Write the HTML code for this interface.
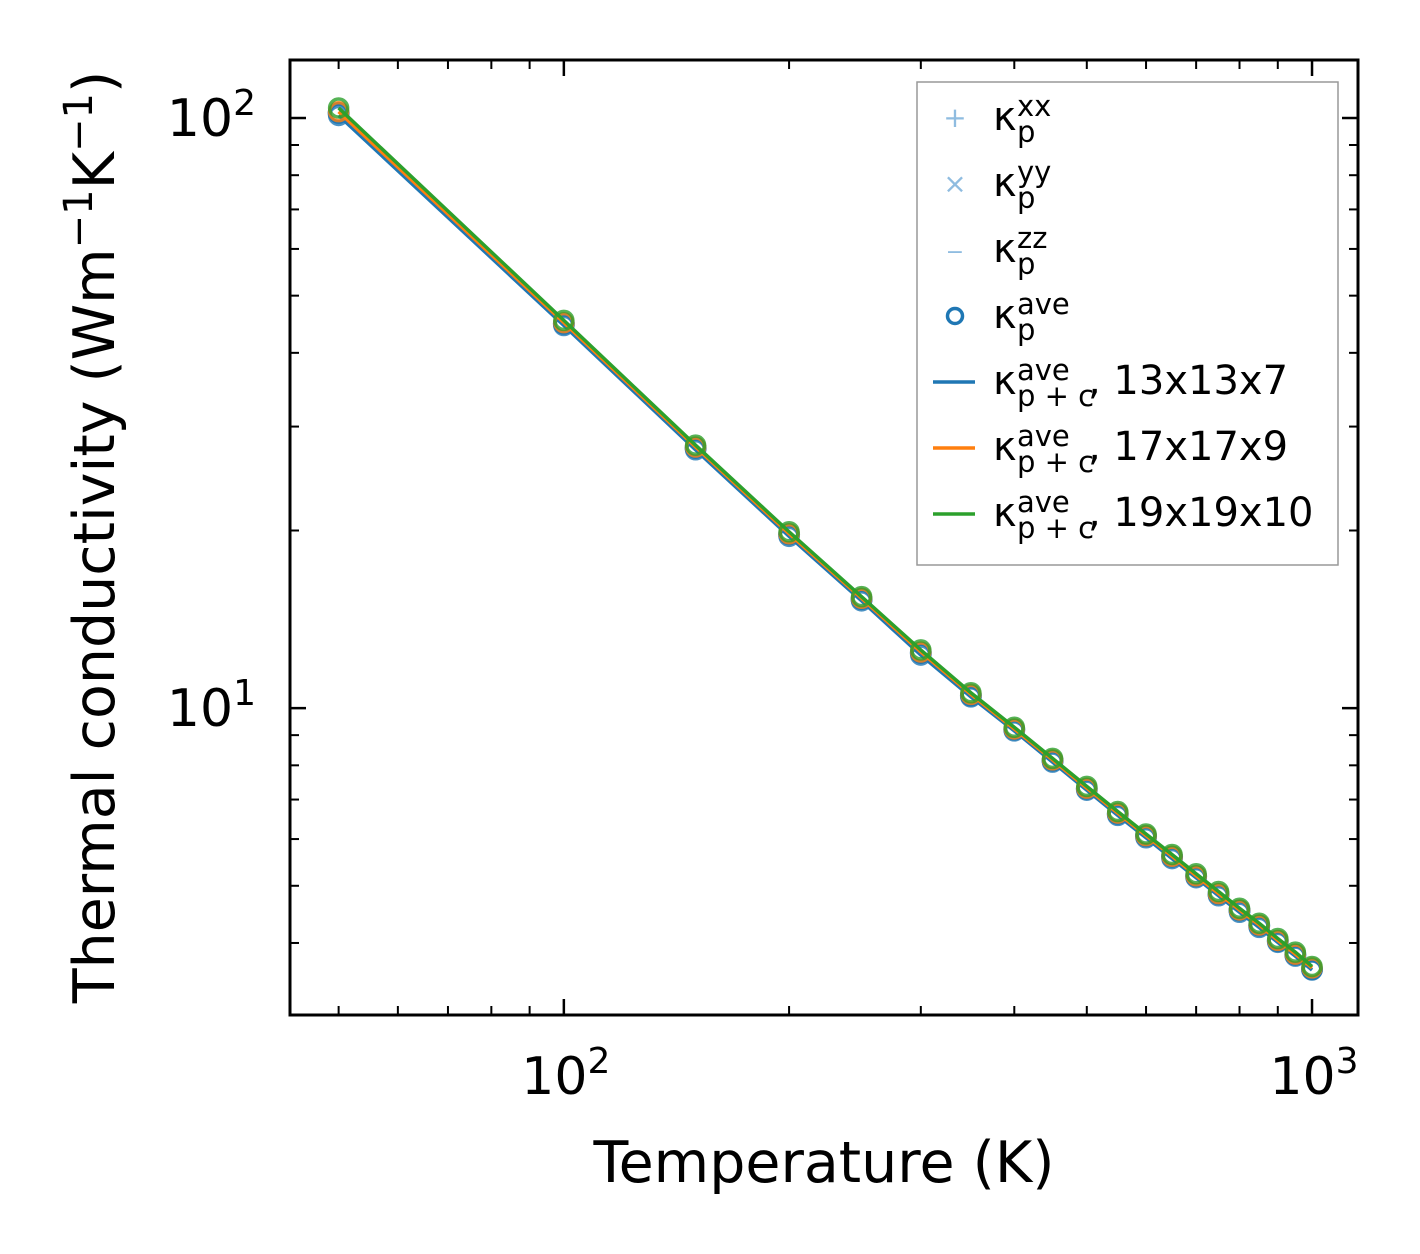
<!DOCTYPE html>
<html><head><meta charset="utf-8">
<style>
html,body{margin:0;padding:0;background:#fff;}
svg{display:block;font-family:"DejaVu Sans","Liberation Sans",sans-serif;}
</style></head>
<body>
<svg id="chart" width="1420" height="1254" viewBox="0 0 1420 1254" xmlns="http://www.w3.org/2000/svg"></svg>
<script>
const temps=[50,100,150,200,250,300,350,400,450,500,550,600,650,700,750,800,850,900,950,1000];
const kappaAve=[102,44.8,27.6,19.7,15.3,12.4,10.5,9.2,8.15,7.3,6.62,6.07,5.6,5.19,4.84,4.54,4.28,4.03,3.82,3.61];
const kappa13=[101,44.5,27.4,19.55,15.2,12.3,10.45,9.15,8.1,7.26,6.58,6.03,5.56,5.16,4.81,4.51,4.25,4.01,3.8,3.6];
const kappa17=[102.5,45.0,27.7,19.75,15.35,12.45,10.55,9.22,8.17,7.32,6.64,6.08,5.61,5.2,4.85,4.55,4.29,4.04,3.83,3.63];
const kappa19=[104,45.4,27.9,19.9,15.45,12.55,10.62,9.28,8.22,7.37,6.68,6.12,5.65,5.24,4.89,4.58,4.32,4.07,3.86,3.65];
const xMajor=[100,1000];
const yMajor=[10,100];

const L=290,R=1358,T=60,B=1015;
const xmin=Math.log10(43.05),xmax=Math.log10(1152);
const ymin=Math.log10(3.02),ymax=Math.log10(125.4);
const X=v=>L+(Math.log10(v)-xmin)/(xmax-xmin)*(R-L);
const Y=v=>B-(Math.log10(v)-ymin)/(ymax-ymin)*(B-T);
const svg=document.getElementById('chart');
const NS='http://www.w3.org/2000/svg';
function mk(tag,attrs,parent){const e=document.createElementNS(NS,tag);for(const k in attrs)e.setAttribute(k,attrs[k]);(parent||svg).appendChild(e);return e;}

const tg=mk('g',{});


for(let d=1;d<=1000;d*=10){for(let m=1;m<10;m++){const v=d*m;const lv=Math.log10(v);
 if(lv>=xmin&&lv<=xmax){const x=X(v);const len=m===1?16:9;const w=m===1?2.5:2;
  mk('line',{x1:x,x2:x,y1:B,y2:B-len,stroke:'#000','stroke-width':w},tg);
  mk('line',{x1:x,x2:x,y1:T,y2:T+len,stroke:'#000','stroke-width':w},tg);}
 if(lv>=ymin&&lv<=ymax){const y=Y(v);const len=m===1?16:9;const w=m===1?2.5:2;
  mk('line',{y1:y,y2:y,x1:L,x2:L+len,stroke:'#000','stroke-width':w},tg);
  mk('line',{y1:y,y2:y,x1:R,x2:R-len,stroke:'#000','stroke-width':w},tg);}
}}
function powLabel(x,y,exp,anchor,name){const t=mk('text',{x:x,y:y,'font-size':52,'text-anchor':anchor});
 
 t.innerHTML='10<tspan dy="-21" font-size="36">'+exp+'</tspan>';}
xMajor.forEach(v=>powLabel(X(v)+2,1094,Math.log10(v),'middle','x-tick-label'));
yMajor.forEach(v=>powLabel(256,Y(v)+18,Math.log10(v),'end','y-tick-label'));

const lg=mk('g',{'clip-path':'url(#clip)'});
const cp=mk('clipPath',{id:'clip'});mk('rect',{x:L,y:T,width:R-L,height:B-T},cp);
temps.forEach((t,i)=>{
 const c=mk('circle',{cx:X(t),cy:Y(kappaAve[i]),r:9,fill:'none',stroke:'#1f77b4','stroke-width':4},lg);
 
 
});
[[kappa13,'#1f77b4','line-13x13x7'],[kappa17,'#ff7f0e','line-17x17x9'],[kappa19,'#2ca02c','line-19x19x10']].forEach(([arr,col,nm])=>{
 const p=mk('polyline',{points:temps.map((t,i)=>X(t)+','+Y(arr[i])).join(' '),fill:'none',stroke:col,'stroke-width':3.5},lg);
 
 
 temps.forEach((t,i)=>{const c=mk('circle',{cx:X(t),cy:Y(arr[i]),r:9,fill:'none',stroke:col,'stroke-width':3.5,opacity:0.8},lg);
  
  });
});

const frame=mk('rect',{x:L,y:T,width:R-L,height:B-T,fill:'none',stroke:'#000','stroke-width':3});



const xt=mk('text',{x:824,y:1182,'font-size':57,'text-anchor':'middle'});

xt.textContent='Temperature (K)';
const yt=mk('text',{x:0,y:0,'font-size':57,'text-anchor':'middle',transform:'translate(114,537) rotate(-90)'});

yt.innerHTML='Thermal conductivity (Wm<tspan dy="-22" font-size="40">−1</tspan><tspan dy="22">K</tspan><tspan dy="-22" font-size="40">−1</tspan><tspan dy="22">)</tspan>';

const leg=mk('g',{});

mk('rect',{x:917,y:82,width:421,height:483,fill:'#fff',stroke:'#999','stroke-width':1.5},leg);
const entries=[
 ['+','#8fbce0','xx','',null],['×','#8fbce0','yy','',null],['−','#8fbce0','zz','',null],
 ['o','#1f77b4','ave','',null],
 ['-','#1f77b4','ave',', 13x13x7','p + c'],['-','#ff7f0e','ave',', 17x17x9','p + c'],['-','#2ca02c','ave',', 19x19x10','p + c']];
entries.forEach((e,i)=>{
 const y=118+i*66;const g=mk('g',{},leg);
 
 if(e[0]==='o')mk('circle',{cx:955,cy:y,r:7.5,fill:'none',stroke:e[1],'stroke-width':3.5},g);
 else if(e[0]==='-')mk('line',{x1:933,x2:975,y1:y,y2:y,stroke:e[1],'stroke-width':3.5},g);
 else{const t=mk('text',{x:955,y:y+9,'font-size':e[0]==='−'?22:28,'text-anchor':'middle',fill:e[1]},g);t.textContent=e[0];}
 const sub=e[4]||'p';
 mk('text',{x:993,y:y+12,'font-size':40},g).textContent='κ';
 mk('text',{x:1017,y:y+24,'font-size':29},g).textContent=sub;
 mk('text',{x:1017,y:y-2,'font-size':29},g).textContent=e[2];
 if(e[3]) mk('text',{x:1088,y:y+12,'font-size':40},g).textContent=e[3];
});
</script>
</body></html>
